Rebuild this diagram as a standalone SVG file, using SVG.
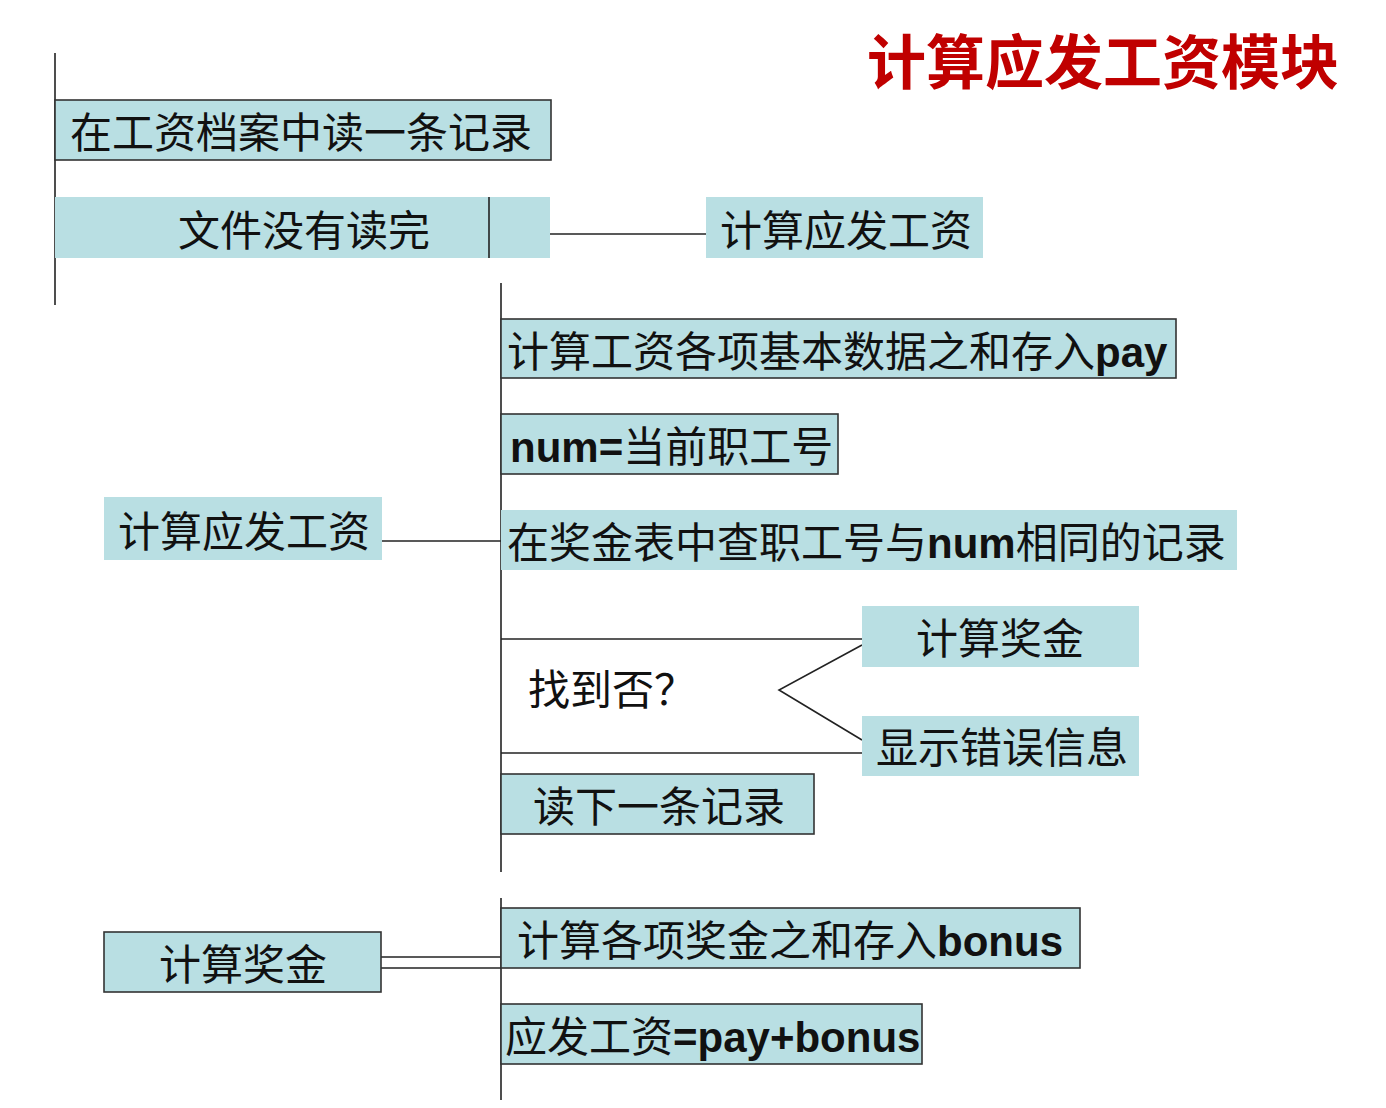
<svg xmlns="http://www.w3.org/2000/svg" width="1386" height="1108" viewBox="0 0 1386 1108">
<style>
.bx{fill:#B9DFE3;stroke:none}
.bd{fill:#B9DFE3;stroke:#333;stroke-width:1.6}
.t{font-family:"Liberation Sans","Noto Sans CJK SC",sans-serif;font-size:42px;fill:#111}
.b{font-weight:bold}
.ln{stroke:#222;stroke-width:1.6;fill:none}
.title{font-family:"Noto Sans CJK SC",sans-serif;font-size:59px;font-weight:bold;fill:#C00000}
</style>
<rect width="1386" height="1108" fill="#fff"/>
<text class="title" x="867" y="84">计算应发工资模块</text>
<g id="connectors">
<line class="ln" x1="55" y1="53" x2="55" y2="305"/>
<line class="ln" x1="550" y1="234" x2="706" y2="234"/>
<line class="ln" x1="501" y1="283" x2="501" y2="872"/>
<line class="ln" x1="382" y1="541" x2="501" y2="541"/>
<line class="ln" x1="501" y1="639" x2="862" y2="639"/>
<line class="ln" x1="501" y1="753" x2="862" y2="753"/>
<polyline class="ln" points="862,645 779,690 862,740"/>
<line class="ln" x1="501" y1="898" x2="501" y2="1100"/>
<line class="ln" x1="381" y1="957" x2="501" y2="957"/>
<line class="ln" x1="381" y1="968" x2="501" y2="968"/>
</g>
<g id="n1"><rect class="bd" x="55" y="100" width="496" height="60"/><text class="t" x="70" y="148">在工资档案中读一条记录</text></g>
<g id="n2"><rect class="bx" x="55" y="197" width="495" height="61"/><line class="ln" x1="489" y1="197" x2="489" y2="258"/><text class="t" x="178" y="246">文件没有读完</text></g>
<g id="n3"><rect class="bx" x="706" y="197" width="277" height="61"/><text class="t" x="720" y="246">计算应发工资</text></g>
<g id="n4"><rect class="bx" x="104" y="497" width="278" height="63"/><text class="t" x="118" y="547">计算应发工资</text></g>
<g id="n5"><rect class="bd" x="501" y="319" width="675" height="59"/><text class="t" x="507" y="367">计算工资各项基本数据之和存入<tspan class="b">pay</tspan></text></g>
<g id="n6"><rect class="bd" x="501" y="414" width="337" height="60"/><text class="t" x="510" y="462"><tspan class="b">num=</tspan>当前职工号</text></g>
<g id="n7"><rect class="bx" x="501" y="510" width="736" height="60"/><text class="t" x="507" y="558">在奖金表中查职工号与<tspan class="b">num</tspan>相同的记录</text></g>
<g id="n8"><text class="t" x="528" y="705">找到否？</text></g>
<g id="n9"><rect class="bx" x="862" y="606" width="277" height="61"/><text class="t" x="1000" y="654" text-anchor="middle">计算奖金</text></g>
<g id="n10"><rect class="bx" x="862" y="716" width="277" height="60"/><text class="t" x="1002" y="763" text-anchor="middle">显示错误信息</text></g>
<g id="n11"><rect class="bd" x="501" y="774" width="313" height="60"/><text class="t" x="659" y="822" text-anchor="middle">读下一条记录</text></g>
<g id="n12"><rect class="bd" x="104" y="932" width="277" height="60"/><text class="t" x="243" y="980" text-anchor="middle">计算奖金</text></g>
<g id="n13"><rect class="bd" x="501" y="908" width="579" height="60"/><text class="t" x="517" y="956">计算各项奖金之和存入<tspan class="b">bonus</tspan></text></g>
<g id="n14"><rect class="bd" x="501" y="1004" width="421" height="60"/><text class="t" x="505" y="1052">应发工资<tspan class="b">=pay+bonus</tspan></text></g>
</svg>
